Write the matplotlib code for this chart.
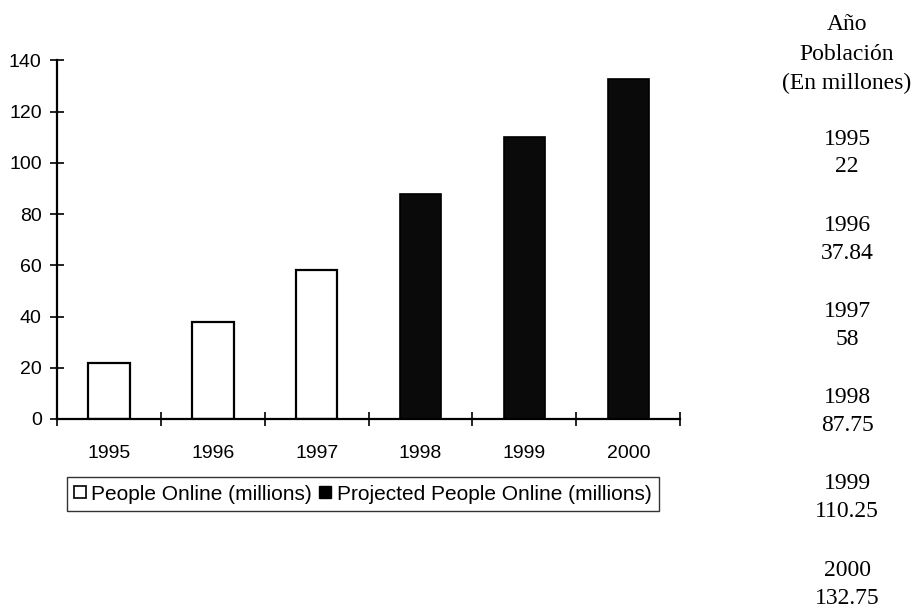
import matplotlib.pyplot as plt
from matplotlib.lines import Line2D
import numpy as np

years = ['1995', '1996', '1997', '1998', '1999', '2000']
people_online = [22, 37.84, 58, None, None, None]
projected_online = [None, None, None, 87.75, 110.25, 132.75]
table_values = [22, 37.84, 58, 87.75, 110.25, 132.75]
y_ticks = [0, 20, 40, 60, 80, 100, 120, 140]

plt.rcParams['font.family'] = 'Liberation Sans'

fig = plt.figure(figsize=(9.18, 6.09), dpi=100)
ax = fig.add_axes([0.062, 0.312, 0.679, 0.589])

x = np.arange(len(years))
width = 0.4
hist_x = [i for i, v in enumerate(people_online) if v is not None]
hist_v = [v for v in people_online if v is not None]
proj_x = [i for i, v in enumerate(projected_online) if v is not None]
proj_v = [v for v in projected_online if v is not None]

ax.bar(hist_x, hist_v, width, color='white', edgecolor='black', linewidth=1.6)
ax.bar(proj_x, proj_v, width, color='#0a0a0a', edgecolor='black', linewidth=1.2)

ax.set_xlim(-0.5, len(years) - 0.5)
ax.set_ylim(0, 140)
ax.set_yticks(y_ticks)
ax.tick_params(axis='y', direction='inout', length=10, width=1.2, labelsize=14, pad=6)
ax.set_xticks(x)
ax.set_xticklabels(years)
ax.tick_params(axis='x', which='major', length=0, labelsize=14, pad=19)
ax.set_xticks(np.arange(-0.5, len(years)), minor=True)
ax.tick_params(axis='x', which='minor', direction='inout', length=10, width=1.2)

for s in ['top', 'right']:
    ax.spines[s].set_visible(False)
for s in ['left', 'bottom']:
    ax.spines[s].set_linewidth(1.6)

handles = [
    Line2D([], [], marker='s', linestyle='none', markersize=8, markerfacecolor='white',
           markeredgecolor='black', markeredgewidth=1.2),
    Line2D([], [], marker='s', linestyle='none', markersize=8, markerfacecolor='black',
           markeredgecolor='black'),
]
leg = fig.legend(handles, ['People Online (millions)', 'Projected People Online (millions)'],
                 loc='upper left', bbox_to_anchor=(0.073, 0.216), ncol=2, fontsize=15,
                 frameon=True, fancybox=False, edgecolor='black', handlelength=0.5,
                 handletextpad=0.3, columnspacing=0.4, borderpad=0.35, borderaxespad=0)
leg.get_frame().set_linewidth(1.0)

# right-hand table
tx = 0.9227
serif = 'Liberation Serif'
header = ['Año', 'Población', '(En millones)']
header_y = [25, 55, 83]
for txt, py in zip(header, header_y):
    fig.text(tx, 1 - py / 609, txt, ha='center', va='center', fontsize=17, family=serif)
for i, (yr, val) in enumerate(zip(years, table_values)):
    base = 139 + i * 86.2
    fig.text(tx, 1 - base / 609, yr, ha='center', va='center', fontsize=17, family=serif)
    fig.text(tx, 1 - (base + 28) / 609, f'{val:g}', ha='center', va='center', fontsize=17, family=serif)

fig.savefig('out.png', dpi=100)
